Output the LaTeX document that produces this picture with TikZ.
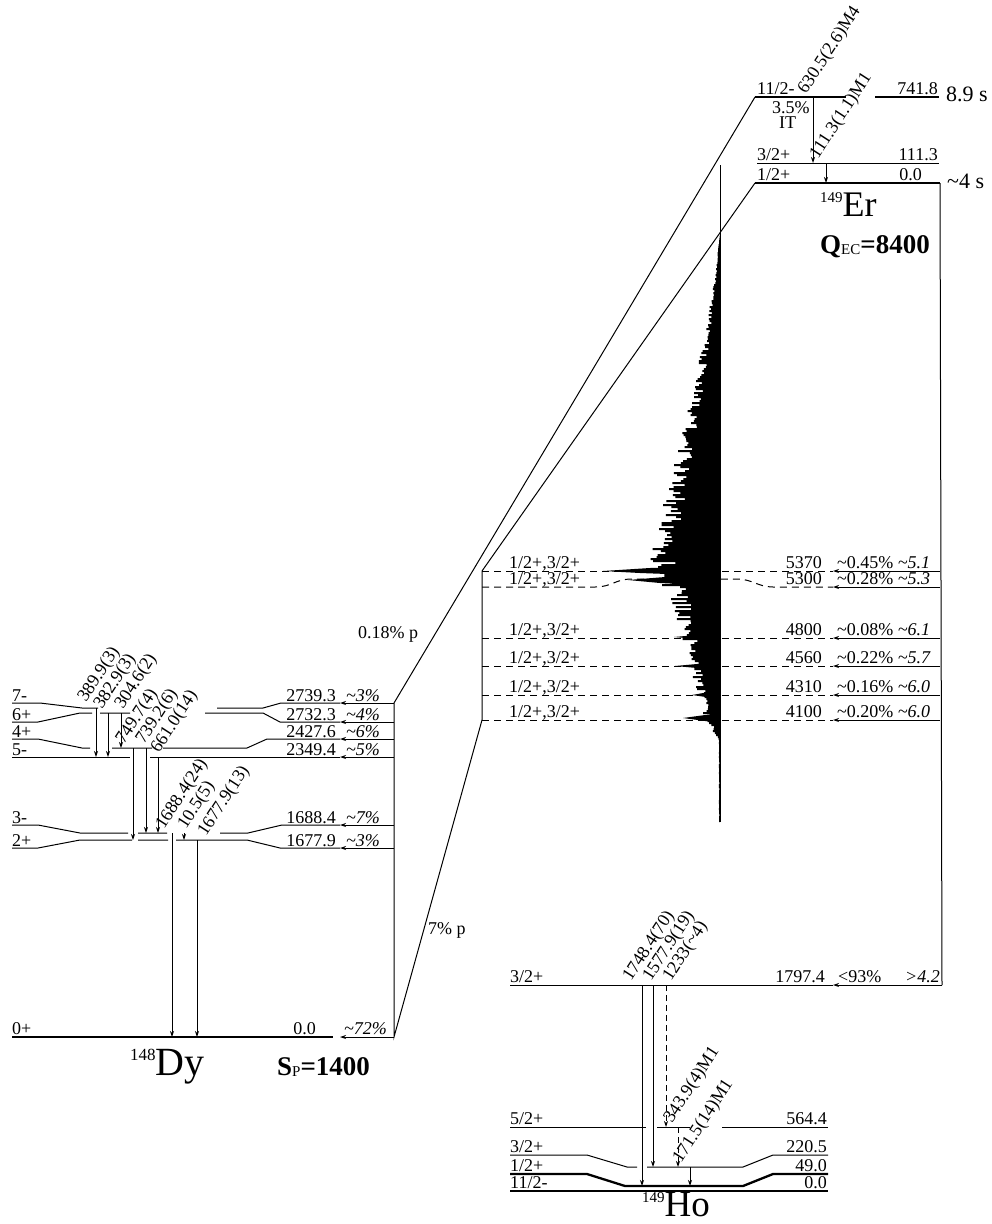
\documentclass[tikz,border=0pt]{standalone}
\usepackage{fontspec}
\setmainfont{Liberation Serif}
\usetikzlibrary{arrows.meta}

\begin{document}
\begin{tikzpicture}[x=1pt, y=-1pt, >={Stealth[length=6pt,width=4pt]},
    lev/.style={line width=1pt},
    gs/.style={line width=2.3pt},
    dsh/.style={line width=1pt, dash pattern=on 7pt off 5pt},
    gam/.style={->, line width=0.9pt},
    feed/.style={->, line width=1pt},
    txt/.style={font=\fontsize{18}{20}\selectfont, inner sep=0pt},
    rot/.style={txt, rotate=57, anchor=base west},
    declare function={env(\t)=(\t<560) ? 68*(((\t-232)/328)^2+(\t-232)/328)/2 :
      ((\t<600) ? 64-22*(\t-560)/40 : ((\t<715) ? 42-28*(\t-600)/115 : max(1,14-13*(\t-715)/25)));}]
  \useasboundingbox (0,0) rectangle (992,1224);

  % corners of the decay lines
  \coordinate (iso) at (755,97);
  \coordinate (ergs) at (755,183);
  \coordinate (ptop) at (482,571);
  \coordinate (pbot) at (482,720);
  \coordinate (dytop) at (394,703);
  \coordinate (dybot) at (394,1037);
  \coordinate (ectop) at (940,183);
  \coordinate (ecbot) at (942,985);
  \draw[lev] (iso) -- (dytop) -- (dybot) -- (pbot) -- (ptop) -- (ergs);
  \draw[lev] (ectop) -- (ecbot);

  % 149Er
  \draw[gs] (755,97) -- (846,97) (875,97) -- (939,97);
  \draw[lev] (757,163) -- (939,163);
  \draw[gs] (755,183) -- (940,183);
  \node[txt, anchor=base west] (er1) at (757,94) {11/2-};
  \node[txt, anchor=base east] (er2) at (938,94) {741.8};
  \node[txt, anchor=base west, font=\fontsize{22}{24}\selectfont] (er3) at (946,101) {8.9 s};
  \node[txt, anchor=base west] (er4) at (772,113) {3.5\%};
  \node[txt, anchor=base west] (er5) at (779,128) {IT};
  \node[txt, anchor=base west] (er6) at (757,160) {3/2+};
  \node[txt, anchor=base east] (er7) at (938,160) {111.3};
  \node[txt, anchor=base west] (er8) at (757,180) {1/2+};
  \node[txt, anchor=base east] (er9) at (922,180) {0.0};
  \node[txt, anchor=base west, font=\fontsize{22}{24}\selectfont] (er10) at (947,188) {\textasciitilde4 s};
  \node[inner sep=0pt, anchor=base west, font=\fontsize{36}{38}\selectfont] (ername) at (820,216)
    {\raisebox{14pt}{\fontsize{15}{15}\selectfont 149}Er};
  \node[inner sep=0pt, anchor=base west, font=\fontsize{27}{29}\selectfont\bfseries] (qec) at (820,253)
    {Q\raisebox{-1pt}{\fontsize{15}{15}\selectfont\mdseries EC}=8400};
  \foreach \x/\ya/\yb/\lab/\lx/\ly in {813/97/163/630.5(2.6)M4/806/95, 826/163/183/111.3(1.1)M1/818/160} {
    \draw[gam] (\x,\ya) -- (\x,\yb);
    \node[rot] (g\x) at (\lx,\ly) {\lab};
  }

  % proton emitting states
  \foreach \y in {571,638,666,695,720}
    \draw[dsh] (482,\y) -- (833,\y);
  \draw[dsh] (482,587) -- (595,587) .. controls (612,587) and (615,579) .. (632,579) -- (737,579)
    .. controls (752,579) and (758,587) .. (773,587) -- (833,587);
  \pgfmathsetseed{11}
  \fill (720,232)
    \foreach \y in {232,234,...,820} {
      -- ({720-env(\y)*(0.7+0.45*rnd)}, \y) -- ++(0,2)
    } -- (720,822) -- cycle;
  \fill (720,566) -- (650,568) -- (603,571) -- (640,573) -- (720,576) -- cycle;
  \fill (720,575) -- (665,577) -- (628,580) -- (660,583) -- (720,586) -- cycle;
  \fill (720,548) -- (668,551) -- (720,554) -- cycle;
  \fill (720,633) -- (674,637) -- (720,641) -- cycle;
  \fill (720,661) -- (697,664) -- (675,666) -- (697,668) -- (720,671) -- cycle;
  \fill (720,690) -- (692,695) -- (720,699) -- cycle;
  \fill (720,713) -- (683,718) -- (720,723) -- cycle;
  \draw[line width=0.7pt] (720,165) -- (720,822);
  \foreach \y/\en/\pc/\lf in {571/5370/0.45/5.1, 587/5300/0.28/5.3, 638/4800/0.08/6.1,
      666/4560/0.22/5.7, 695/4310/0.16/6.0, 720/4100/0.20/6.0} {
    \node[txt, anchor=base west] (pj\en) at (509,\y-3) {1/2+,3/2+};
    \node[txt, anchor=base east] (pe\en) at (822,\y-3) {\en};
    \node[txt, anchor=base west] (pf\en) at (837,\y-3) {\textasciitilde\pc\% \textit{\textasciitilde\lf}};
    \draw[feed] (940,\y) -- (833,\y);
  }

  % 148Dy
  \draw[lev] (12,703) -- (40,703) -- (82,708) -- (98,708)
             (217,708) -- (263,708) -- (281,703) -- (340,703);
  \draw[lev] (12,722) -- (38,722) -- (80,713) -- (92,713) (100,713) -- (130,713)
             (205,713) -- (263,713) -- (280,722) -- (340,722);
  \draw[lev] (12,739) -- (38,739) -- (82,748) -- (90,748) (112,748) -- (152,748)
             (163,748) -- (247,748) -- (267,739) -- (340,739);
  \draw[lev] (12,757) -- (130,757) (150,757) -- (340,757);
  \draw[lev] (12,825) -- (38,825) -- (80,833) -- (128,833) (138,833) -- (167,833)
             (220,833) -- (248,833) -- (282,825) -- (340,825);
  \draw[lev] (12,848) -- (38,848) -- (80,840) -- (132,840) (138,840) -- (168,840)
             (176,840) -- (247,840) -- (280,848) -- (340,848);
  \draw[gs] (12,1037) -- (333,1037);
  \foreach \y/\jp/\en/\pc in {701/7-/2739.3/3, 720/6+/2732.3/4, 737/4+/2427.6/6,
      755/5-/2349.4/5, 823/3-/1688.4/7, 846/2+/1677.9/3} {
    \node[txt, anchor=base west] (dj\y) at (12,\y) {\jp};
    \node[txt, anchor=base east] (de\y) at (336,\y) {\en};
    \node[txt, anchor=base west] (df\y) at (346,\y) {\textit{\textasciitilde\pc\%}};
    \draw[feed] (394,\y+2) -- (340,\y+2);
  }
  \node[txt, anchor=base west] (dj0) at (12,1034) {0+};
  \node[txt, anchor=base east] (de0) at (316,1034) {0.0};
  \node[txt, anchor=base west] (df0) at (344,1034) {\textit{\textasciitilde72\%}};
  \draw[feed] (394,1037) -- (340,1037);
  \foreach \x/\ya/\yb/\lab/\lx/\ly in {96/708/757/389.9(3)/86/703, 108/713/757/382.9(3)/102/710,
      121/713/748/304.6(2)/123/710, 133/748/840/749.7(4)/124/745, 146/748/833/739.2(6)/144/745,
      158/757/833/661.0(14)/159/754, 172/833/1037/1688.4(24)/164/830, 184/833/840/10.5(5)/186/830,
      197/840/1037/1677.9(13)/206/837} {
    \draw[gam] (\x,\ya) -- (\x,\yb);
    \node[rot] (g\x) at (\lx,\ly) {\lab};
  }
  \node[inner sep=0pt, anchor=base west, font=\fontsize{40}{42}\selectfont] (dyname) at (130,1075)
    {\raisebox{15pt}{\fontsize{17}{17}\selectfont 148}Dy};
  \node[inner sep=0pt, anchor=base west, font=\fontsize{27}{29}\selectfont\bfseries] (sp) at (277,1075)
    {S\raisebox{-1pt}{\fontsize{15}{15}\selectfont\mdseries P}=1400};
  \node[txt, anchor=base west] (pa) at (358,638) {0.18\% p};
  \node[txt, anchor=base west] (pb) at (428,934) {7\% p};

  % 149Ho
  \draw[lev] (510,985) -- (833,985);
  \draw[feed] (ecbot) -- (833,985);
  \draw[lev] (510,1127) -- (646,1127) (657,1127) -- (690,1127) (722,1127) -- (828,1127);
  \draw[lev] (510,1155) -- (587,1155) -- (627,1167) -- (637,1167)
             (647,1167) -- (743,1167) -- (773,1155) -- (828,1155);
  \draw[gs] (510,1174) -- (587,1174) -- (625,1186) -- (743,1186) -- (773,1174) -- (828,1174);
  \draw[gs] (510,1191) -- (828,1191);
  \node[txt, anchor=base west] (hj1) at (510,982) {3/2+};
  \node[txt, anchor=base east] (he1) at (825,982) {1797.4};
  \node[txt, anchor=base west] (hf1) at (838,982) {<93\%};
  \node[txt, anchor=base west] (hl1) at (905,982) {\textit{>4.2}};
  \foreach \y/\jp/\en in {1124/5\slash2+/564.4, 1152/3\slash2+/220.5, 1171/1\slash2+/49.0, 1188/11\slash2-/0.0} {
    \node[txt, anchor=base west] (hj\y) at (510,\y) {\jp};
    \node[txt, anchor=base east] (he\y) at (827,\y) {\en};
  }
  \foreach \x/\ya/\yb/\lab/\lx/\ly in {642/985/1186/1748.4(70)/631/982, 653/985/1167/1577.9(19)/651/982,
      690/1167/1186/171.5(14)M1/681/1164} {
    \draw[gam] (\x,\ya) -- (\x,\yb);
    \node[rot] (g\x) at (\lx,\ly) {\lab};
  }
  \foreach \x/\ya/\yb/\lab/\lx/\ly in {666/985/1127/1233(\textasciitilde4)/671/982,
      678/1127/1167/343.9(4)M1/672/1124} {
    \draw[gam, dash pattern=on 6pt off 4pt] (\x,\ya) -- (\x,\yb);
    \node[rot] (g\x) at (\lx,\ly) {\lab};
  }
  \node[inner sep=0pt, anchor=base west, font=\fontsize{37}{39}\selectfont] (honame) at (642,1216)
    {\raisebox{14pt}{\fontsize{15}{15}\selectfont 149}Ho};
\end{tikzpicture}
\end{document}
